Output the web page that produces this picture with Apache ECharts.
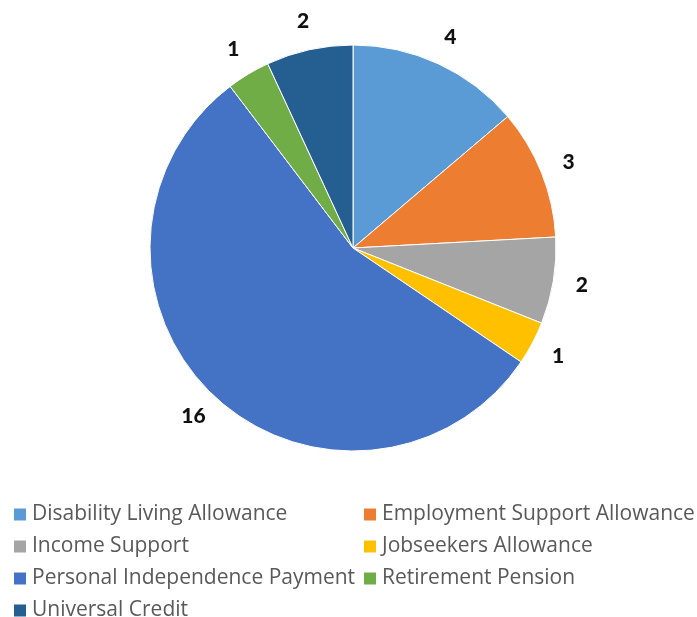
<!DOCTYPE html>
<html><head><meta charset="utf-8">
<script src="https://cdn.jsdelivr.net/npm/echarts@6/dist/echarts.min.js"></script>
<style>html,body{margin:0;padding:0;background:#fff}#c{width:697px;height:617px}</style>
</head><body><div id="c"></div>
<script>
const categories = ["Disability Living Allowance","Employment Support Allowance","Income Support","Jobseekers Allowance","Personal Independence Payment","Retirement Pension","Universal Credit"];
const values = [4,3,2,1,16,1,2];
const colors = ["#5B9BD5","#ED7D31","#A5A5A5","#FFC000","#4472C4","#70AD47","#255E91"];
const leftLegend = ["Disability Living Allowance","Income Support","Personal Independence Payment","Universal Credit"];
const rightLegend = ["Employment Support Allowance","Jobseekers Allowance","Retirement Pension"];

const chart = echarts.init(document.getElementById('c'));
const legendBase = {
  orient:'vertical', top:504, height:130, padding:0, icon:'rect', itemWidth:14, itemHeight:14, itemGap:11,
  textStyle:{fontFamily:'Open Sans', fontSize:21, color:'#595959', lineHeight:20},
  selectedMode:false
};
chart.setOption({
  animation:false,
  color: colors,
  legend:[
    Object.assign({left:12, data:leftLegend}, legendBase),
    Object.assign({left:362, data:rightLegend}, legendBase)
  ],
  series:[{
    type:'pie',
    center:[353,248],
    radius:203,
    startAngle:90,
    clockwise:true,
    data: categories.map((n,i)=>({name:n, value:values[i]})),
    itemStyle:{borderColor:'#fff', borderWidth:1},
    label:{show:true, position:'outside', formatter:'{c}', distanceToLabelLine:0, fontFamily:'Lato', fontWeight:900, fontSize:21, color:'#111'},
    labelLine:{show:false, length:29, length2:0},
    labelLayout:{align:'center', verticalAlign:'middle'},
    emphasis:{disabled:true}
  }]
});
</script></body></html>
